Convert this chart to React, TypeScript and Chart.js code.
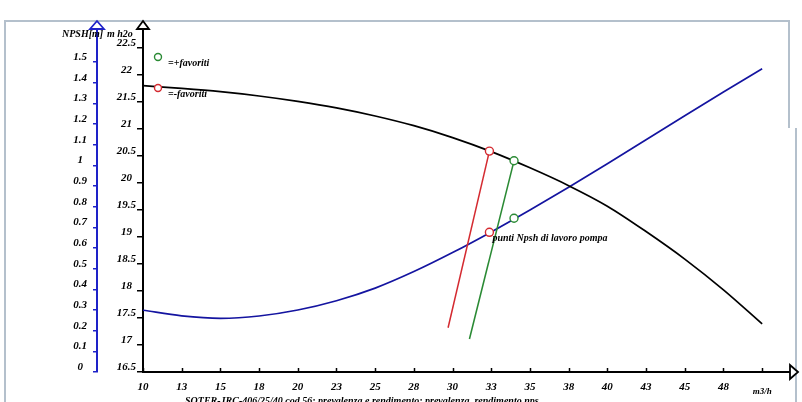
import { useEffect, useRef } from "react";
import { Chart, registerables } from "chart.js";

Chart.register(...registerables);

// ---- data ----
const flow = [10, 12.5, 15, 17.5, 20, 22.5, 25, 27.5, 30, 32.5, 35, 37.5, 40, 42.5, 45, 47.5, 50];
const head = [21.8, 21.75, 21.69, 21.61, 21.51, 21.39, 21.24, 21.06, 20.84, 20.58, 20.28, 19.95, 19.57, 19.1, 18.59, 18.02, 17.39];
const npsh = [0.299, 0.272, 0.26, 0.271, 0.3, 0.345, 0.406, 0.486, 0.578, 0.678, 0.784, 0.894, 1.008, 1.124, 1.24, 1.355, 1.468];

const redLineQ = [29.71, 32.38];
const redLineH = [17.32, 20.59];
const greenLineQ = [31.09, 33.97];
const greenLineH = [17.11, 20.41];

const minusFavQ = [32.38];
const minusFavH = [20.59];
const minusFavNpsh = [0.676];
const plusFavQ = [33.97];
const plusFavH = [20.41];
const plusFavNpsh = [0.744];

const xTickValues = [10, 12.5, 15, 17.5, 20, 22.5, 25, 27.5, 30, 32.5, 35, 37.5, 40, 42.5, 45, 47.5, 50];
const xTickLabels = ["10", "13", "15", "18", "20", "23", "25", "28", "30", "33", "35", "38", "40", "43", "45", "48", "m3/h"];
const headTickValues = [16.5, 17, 17.5, 18, 18.5, 19, 19.5, 20, 20.5, 21, 21.5, 22, 22.5];
const headTickLabels = ["16.5", "17", "17.5", "18", "18.5", "19", "19.5", "20", "20.5", "21", "21.5", "22", "22.5"];
const npshTickValues = [0, 0.1, 0.2, 0.3, 0.4, 0.5, 0.6, 0.7, 0.8, 0.9, 1, 1.1, 1.2, 1.3, 1.4, 1.5];
const npshTickLabels = ["0", "0.1", "0.2", "0.3", "0.4", "0.5", "0.6", "0.7", "0.8", "0.9", "1", "1.1", "1.2", "1.3", "1.4", "1.5"];

const legendPlus = "=+favoriti";
const legendMinus = "=-favoriti";
const npshNote = "punti Npsh di lavoro pompa";
const npshAxisTitle = "NPSH[m]";
const headAxisTitle = "m h2o";
const footerTitle = "SOTER-JRC-406/25/40 cod 56: prevalenza e rendimento; prevalenza, rendimento nps";

// ---- styles ----
const FAMILY = "'Liberation Serif', 'Times New Roman', serif";
const BLUE_AXIS = "#1e22c8";
const BLUE_LINE = "#1414a0";
const RED = "#d42a30";
const GREEN = "#2a8a34";

const zip = (xs: number[], ys: number[]) => xs.map((x, i) => ({ x, y: ys[i] }));

const decorPlugin = {
  id: "decor",
  beforeDraw(chart: any) {
    const ctx = chart.ctx;
    ctx.save();
    ctx.strokeStyle = "#b4c0cc";
    ctx.lineWidth = 2;
    ctx.beginPath();
    ctx.moveTo(5, 404);
    ctx.lineTo(5, 21);
    ctx.lineTo(789, 21);
    ctx.lineTo(789, 128);
    ctx.stroke();
    ctx.beginPath();
    ctx.moveTo(796, 128);
    ctx.lineTo(796, 404);
    ctx.stroke();
    ctx.restore();
  },
  afterDatasetsDraw(chart: any) {
    const { ctx, chartArea, scales } = chart;
    const x = scales.x;
    const y = scales.y;
    const y2 = scales.y2;
    ctx.save();
    // x tick marks (inside)
    ctx.strokeStyle = "#000";
    ctx.lineWidth = 1.5;
    xTickValues.forEach((v) => {
      const px = Math.round(x.getPixelForValue(v)) + 0.5;
      ctx.beginPath();
      ctx.moveTo(px, chartArea.bottom);
      ctx.lineTo(px, chartArea.bottom - 4);
      ctx.stroke();
    });
    // arrows
    const tri = (a: number[], b: number[], c: number[], color: string) => {
      ctx.strokeStyle = color;
      ctx.lineWidth = 1.8;
      ctx.fillStyle = "#fff";
      ctx.beginPath();
      ctx.moveTo(a[0], a[1]);
      ctx.lineTo(b[0], b[1]);
      ctx.lineTo(c[0], c[1]);
      ctx.closePath();
      ctx.fill();
      ctx.stroke();
    };
    const yx = y.right;
    tri([yx, chartArea.top - 8], [yx - 6, chartArea.top], [yx + 6, chartArea.top], "#000");
    const y2x = y2.right;
    tri([y2x, chartArea.top - 8], [y2x - 7, chartArea.top], [y2x + 7, chartArea.top], BLUE_AXIS);
    const xr = chartArea.right;
    tri([xr + 8, chartArea.bottom], [xr, chartArea.bottom - 7], [xr, chartArea.bottom + 7], "#000");

    // legend
    const circle = (cx: number, cy: number, color: string) => {
      ctx.strokeStyle = color;
      ctx.lineWidth = 1.4;
      ctx.fillStyle = "#fff";
      ctx.beginPath();
      ctx.arc(cx, cy, 3.5, 0, Math.PI * 2);
      ctx.fill();
      ctx.stroke();
    };
    ctx.font = `italic bold 10px ${FAMILY}`;
    ctx.textBaseline = "middle";
    ctx.textAlign = "left";
    circle(158, 57, GREEN);
    ctx.fillStyle = "#000";
    ctx.fillText(legendPlus, 168, 63);
    circle(158, 88, RED);
    ctx.fillStyle = "#000";
    ctx.fillText(legendMinus, 168, 94);

    // annotation near the working NPSH point
    const ax = x.getPixelForValue(minusFavQ[0]);
    const ay = y2.getPixelForValue(minusFavNpsh[0]);
    ctx.fillText(npshNote, ax + 3, ay + 6);

    // axis titles
    ctx.fillText(npshAxisTitle, 62, 34);
    ctx.fillText(headAxisTitle, 107, 34);

    // footer (cut off by the window)
    ctx.textBaseline = "alphabetic";
    ctx.fillText(footerTitle, 185, 404);
    ctx.restore();
  },
};

export default function App() {
  const canvasRef = useRef<HTMLCanvasElement | null>(null);

  useEffect(() => {
    const canvas = canvasRef.current;
    if (!canvas) return;
    const tickFont = { family: FAMILY, size: 11, style: "italic" as const, weight: "bold" as const };
    const pointStyle = (color: string) => ({
      showLine: false,
      pointRadius: 4,
      pointBorderWidth: 1.4,
      pointBorderColor: color,
      pointBackgroundColor: "#fff",
    });
    const chart = new Chart(canvas, {
      type: "line",
      data: {
        datasets: [
          { label: "+favoriti head", data: zip(plusFavQ, plusFavH), yAxisID: "y", ...pointStyle(GREEN) },
          { label: "+favoriti npsh", data: zip(plusFavQ, plusFavNpsh), yAxisID: "y2", ...pointStyle(GREEN) },
          { label: "-favoriti head", data: zip(minusFavQ, minusFavH), yAxisID: "y", ...pointStyle(RED) },
          { label: "-favoriti npsh", data: zip(minusFavQ, minusFavNpsh), yAxisID: "y2", ...pointStyle(RED) },
          {
            label: "red line",
            data: zip(redLineQ, redLineH),
            yAxisID: "y",
            borderColor: RED,
            borderWidth: 1.5,
            pointRadius: 0,
          },
          {
            label: "green line",
            data: zip(greenLineQ, greenLineH),
            yAxisID: "y",
            borderColor: GREEN,
            borderWidth: 1.5,
            pointRadius: 0,
          },
          {
            label: "prevalenza",
            data: zip(flow, head),
            yAxisID: "y",
            borderColor: "#000",
            borderWidth: 1.7,
            pointRadius: 0,
            cubicInterpolationMode: "monotone",
          },
          {
            label: "NPSH",
            data: zip(flow, npsh),
            yAxisID: "y2",
            borderColor: BLUE_LINE,
            borderWidth: 1.7,
            pointRadius: 0,
            cubicInterpolationMode: "monotone",
          },
        ],
      },
      options: {
        animation: false,
        responsive: false,
        devicePixelRatio: 1,
        layout: { padding: { left: 20, right: 12, top: 29, bottom: 8 } },
        plugins: { legend: { display: false }, tooltip: { enabled: false }, title: { display: false } },
        scales: {
          x: {
            type: "linear",
            position: "bottom",
            min: 10,
            max: 51.8,
            afterBuildTicks: (s: any) => {
              s.ticks = xTickValues.map((v) => ({ value: v }));
            },
            afterFit: (s: any) => {
              s.height = 22;
            },
            grid: { drawOnChartArea: false, drawTicks: false },
            border: { color: "#000", width: 2 },
            ticks: {
              autoSkip: false,
              maxRotation: 0,
              padding: 9,
              color: "#000",
              callback: (_v: any, i: number) => xTickLabels[i],
              font: (c: any) =>
                c.index === xTickLabels.length - 1
                  ? { family: FAMILY, size: 9, style: "italic", weight: "bold", lineHeight: 2.3 }
                  : tickFont,
            },
          },
          y: {
            type: "linear",
            position: "left",
            weight: 0,
            min: 16.5,
            max: 22.85,
            afterBuildTicks: (s: any) => {
              s.ticks = headTickValues.map((v) => ({ value: v }));
            },
            afterFit: (s: any) => {
              s.width = 46;
            },
            grid: { drawOnChartArea: false, drawTicks: true, tickLength: 6, color: "#000", lineWidth: 1.5 },
            border: { color: "#000", width: 2 },
            ticks: {
              autoSkip: false,
              crossAlign: "center",
              padding: 1,
              labelOffset: -5,
              color: "#000",
              font: tickFont,
              callback: (_v: any, i: number) => headTickLabels[i],
            },
          },
          y2: {
            type: "linear",
            position: "left",
            weight: 1,
            min: 0,
            max: 1.66,
            afterBuildTicks: (s: any) => {
              s.ticks = npshTickValues.map((v) => ({ value: v }));
            },
            afterFit: (s: any) => {
              s.width = 77;
            },
            grid: { drawOnChartArea: false, drawTicks: true, tickLength: 4, color: BLUE_AXIS, lineWidth: 1.5 },
            border: { color: BLUE_AXIS, width: 2 },
            ticks: {
              autoSkip: false,
              crossAlign: "center",
              padding: 6,
              labelOffset: -5,
              color: "#000",
              font: tickFont,
              callback: (_v: any, i: number) => npshTickLabels[i],
            },
          },
        },
      } as any,
      plugins: [decorPlugin],
    });
    return () => chart.destroy();
  }, []);

  return (
    <div style={{ position: "fixed", left: 0, top: 0, width: 802, height: 402, background: "#fff", overflow: "hidden" }}>
      <canvas ref={canvasRef} width={802} height={402} style={{ display: "block", width: 802, height: 402 }} />
    </div>
  );
}
